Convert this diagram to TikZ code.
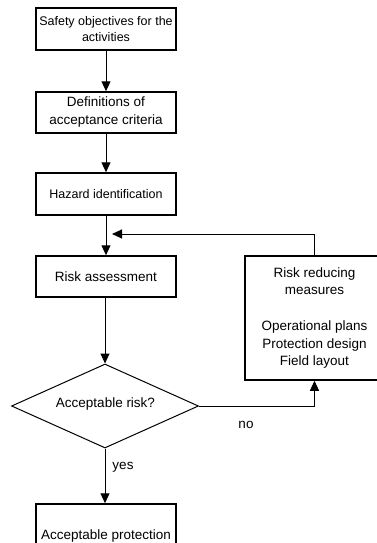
\documentclass[tikz,border=0pt]{standalone}
\usepackage{fontspec}
\setmainfont{Liberation Sans}
\usetikzlibrary{shapes.geometric,arrows.meta}
\begin{document}
\begin{tikzpicture}[x=1pt,y=-1pt,
    box/.style={draw,line width=1.5pt,minimum width=140pt,minimum height=41pt,
        align=center,inner sep=0pt,font=\fontsize{13.5}{18}\selectfont},
    smallbox/.style={box,font=\fontsize{12.5}{16.7}\selectfont},
    decide/.style={draw,line width=1pt,diamond,minimum width=187pt,minimum height=84pt,
        inner sep=0pt,font=\fontsize{13.5}{18}\selectfont},
    flow/.style={line width=1pt,-{Triangle[length=10pt,width=9pt]}},
    lbl/.style={font=\fontsize{13.5}{18}\selectfont,inner sep=0pt}]
    \path[use as bounding box] (0,0) rectangle (377,543);
    \clip (0,0) rectangle (377,543);
    % boxes of the main flow
    \node[smallbox,minimum height=42pt] (safety) at (106,29) {Safety objectives for the\\activities};
    \node[box] (defs) at (106,112.5) {Definitions of\\acceptance criteria};
    \node[smallbox,minimum height=42pt] (hazard) at (106,194) {Hazard identification};
    \node[box] (risk) at (106,276.5) {Risk assessment};
    \node[decide] (check) at (105,406) {};
    \node[lbl] (checktext) at (105.5,404) {Acceptable risk?};
    \node[box,minimum height=64pt] (accept) at (106,536) {Acceptable protection};
    % loop back
    \node[box,minimum width=139pt,minimum height=124pt,font=\fontsize{13.5}{17.7}\selectfont]
        (reduce) at (314.5,318) {Risk reducing\\measures\\[17.7pt]Operational plans\\Protection design\\Field layout};
    \coordinate (merge) at (112,234);
    % connectors
    \draw[flow] (safety) -- (defs);
    \draw[flow] (defs) -- (hazard);
    \draw[flow] (hazard) -- (risk);
    \draw[flow] (risk.south -| check.north) -- (check.north);
    \draw[flow] (check.east) -| (reduce.south);
    \draw[flow] (reduce.north) |- (merge);
    \draw[flow] (check.south) -- (check.south |- accept.north);
    \node[lbl] (no) at (246,425) {no};
    \node[lbl] (yes) at (123,467) {yes};
\end{tikzpicture}
\end{document}
